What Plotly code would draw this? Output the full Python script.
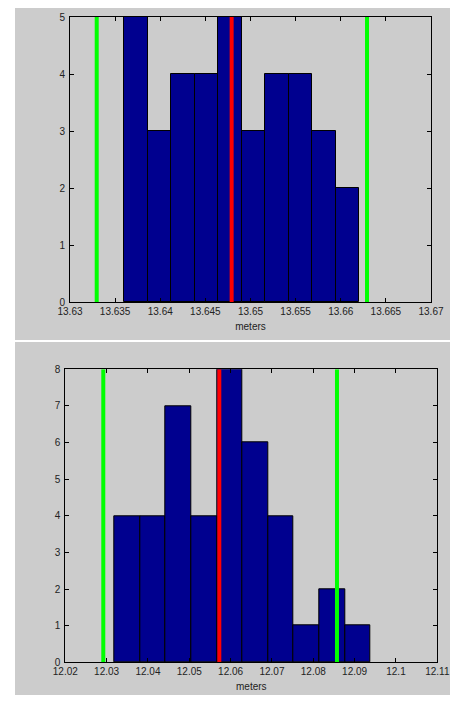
import plotly.graph_objects as go

# The page body adds an 8px margin, so the figure is sized to fit inside it
OFF = 8
W, H = 458 - 2 * OFF, 703 - 2 * OFF

# ---- data: top histogram ----
top_bin_centers = [13.63732, 13.63992, 13.64252, 13.64512, 13.64772,
                   13.65032, 13.65292, 13.65552, 13.65812, 13.66072]
top_counts = [5, 3, 4, 4, 5, 3, 4, 4, 3, 2]
top_bin_width = 0.0026
top_limits = [13.63296, 13.66291]
top_mean = 13.64791
top_xticks = [13.63, 13.635, 13.64, 13.645, 13.65, 13.655, 13.66, 13.665, 13.67]
top_xtick_labels = ["13.63", "13.635", "13.64", "13.645", "13.65", "13.655", "13.66", "13.665", "13.67"]
top_ymax = 5

# ---- data: bottom histogram ----
bot_bin_centers = [12.03496, 12.04116, 12.04736, 12.05356, 12.05976,
                   12.06596, 12.07216, 12.07836, 12.08456, 12.09076]
bot_counts = [4, 4, 7, 4, 8, 6, 4, 1, 2, 1]
bot_bin_width = 0.0062
bot_limits = [12.02919, 12.08573]
bot_mean = 12.05726
bot_xticks = [12.02, 12.03, 12.04, 12.05, 12.06, 12.07, 12.08, 12.09, 12.1, 12.11]
bot_xtick_labels = ["12.02", "12.03", "12.04", "12.05", "12.06", "12.07", "12.08", "12.09", "12.1", "12.11"]
bot_ymax = 8

x_label = "meters"

BAR = "#00008F"
GREEN = "#00FF00"
RED = "#FF0000"
GRAY = "#CCCCCC"
FONT = "Liberation Sans, Arial, sans-serif"

fig = go.Figure()

def add_panel(centers, counts, width, limits, mean, ymax, xa, ya):
    fig.add_trace(go.Bar(x=centers, y=counts, width=width,
                         marker=dict(color=BAR, line=dict(color="black", width=1)),
                         xaxis=xa, yaxis=ya, showlegend=False, hoverinfo="x+y"))
    for xv in limits:
        fig.add_trace(go.Scatter(x=[xv, xv], y=[0, ymax], mode="lines",
                                 line=dict(color=GREEN, width=4),
                                 xaxis=xa, yaxis=ya, showlegend=False))
    fig.add_trace(go.Scatter(x=[mean, mean], y=[0, ymax], mode="lines",
                             line=dict(color=RED, width=4),
                             xaxis=xa, yaxis=ya, showlegend=False))

add_panel(top_bin_centers, top_counts, top_bin_width, top_limits, top_mean, top_ymax, "x", "y")
add_panel(bot_bin_centers, bot_counts, bot_bin_width, bot_limits, bot_mean, bot_ymax, "x2", "y2")

def clamp(v):
    return max(0.0, min(1.0, v))

def px_x(a, b):
    return [clamp((a - OFF) / W), clamp((b - OFF) / W)]

def px_y(top, bottom):
    return [clamp(1 - (bottom - OFF) / H), clamp(1 - (top - OFF) / H)]

axis_common = dict(showgrid=False, zeroline=False, ticks="inside", ticklen=4,
                   tickwidth=1, tickcolor="black", showline=True, linecolor="black",
                   linewidth=1, mirror="ticks", automargin=False,
                   tickfont=dict(family=FONT, size=10, color="#222222"))

gx_top = px_x(15, 458)
gy_top = px_y(2, 340)
gx_bot = px_x(15, 458)
gy_bot = px_y(342, 700)

fig.update_layout(
    width=W, height=H,
    margin=dict(l=0, r=0, t=0, b=0, autoexpand=False),
    paper_bgcolor="white", plot_bgcolor="white",
    bargap=0,
    xaxis=dict(domain=px_x(70, 431), range=[top_xticks[0], top_xticks[-1]],
               tickvals=top_xticks, ticktext=top_xtick_labels, anchor="y",
               title=dict(text=x_label, font=dict(family=FONT, size=10, color="#222222"), standoff=6),
               **axis_common),
    yaxis=dict(domain=px_y(17, 302), range=[0, top_ymax], dtick=1, anchor="x",
               ticklabelstandoff=2, **axis_common),
    xaxis2=dict(domain=px_x(65.3, 437.3), range=[bot_xticks[0], bot_xticks[-1]],
                tickvals=bot_xticks, ticktext=bot_xtick_labels, anchor="y2",
                title=dict(text=x_label, font=dict(family=FONT, size=10, color="#222222"), standoff=6),
                **axis_common),
    yaxis2=dict(domain=px_y(369.3, 662.3), range=[0, bot_ymax], dtick=1, anchor="x2",
                ticklabelstandoff=2, **axis_common),
    shapes=[
        dict(type="rect", xref="paper", yref="paper", x0=gx_top[0], x1=gx_top[1],
             y0=gy_top[0], y1=gy_top[1], fillcolor=GRAY, line=dict(width=0), layer="below"),
        dict(type="rect", xref="paper", yref="paper", x0=gx_bot[0], x1=gx_bot[1],
             y0=gy_bot[0], y1=gy_bot[1], fillcolor=GRAY, line=dict(width=0), layer="below"),
    ],
)

fig.write_html("out.html")
